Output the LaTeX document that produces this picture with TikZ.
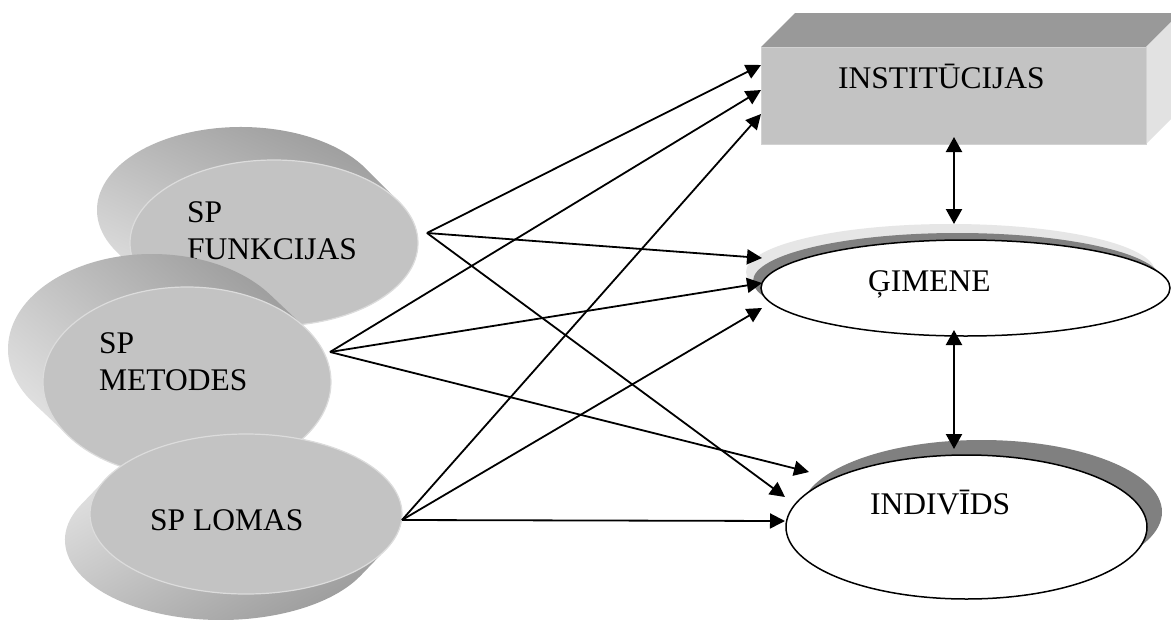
\documentclass[tikz,border=0pt]{standalone}
\usepackage{fontspec}
\setmainfont{Liberation Serif}
\usetikzlibrary{arrows.meta,calc,shapes.geometric}

\definecolor{face}{HTML}{C3C3C3}
\definecolor{rim}{HTML}{DCDCDC}
\definecolor{sidelight}{HTML}{E8E8E8}
\definecolor{sidedark}{HTML}{979797}
\definecolor{boxtop}{HTML}{999999}
\definecolor{boxside}{HTML}{E2E2E2}
\definecolor{boxedge}{HTML}{D2D2D2}
\definecolor{shadowdark}{HTML}{808080}
\definecolor{shadowlight}{HTML}{E6E6E6}

% side wall of an extruded disc: hull of the front ellipse and its copy
% moved by (dx,dy); args: cx, cy, rx, ry, dx, dy, shading angle
\newcommand{\ExtrudedSide}[7]{%
  \pgfmathsetmacro\sideta{atan2(-(#4)*(#5),(#3)*(#6))}%
  \pgfmathsetmacro\sidetb{\sideta+180}%
  \pgfmathsetmacro\sidetc{\sideta+360}%
  \path[left color=sidelight,right color=sidedark,shading angle=#7]
    ($(#1+#5,#2+#6)+(\sideta:#3 and #4)$)
      arc[start angle=\sideta,end angle=\sidetb,x radius=#3,y radius=#4]
    -- ($(#1,#2)+(\sidetb:#3 and #4)$)
      arc[start angle=\sidetb,end angle=\sidetc,x radius=#3,y radius=#4]
    -- cycle;%
}

\tikzset{
  lbl/.style={font=\fontsize{31.5}{37}\selectfont,inner sep=0pt,align=left},
  frontdisc/.style={ellipse,fill=face,draw=rim,line width=1.2pt,inner sep=0pt},
  whiteoval/.style={ellipse,fill=white,draw=black,line width=1.5pt,inner sep=0pt},
  link/.style={-{Triangle[length=15pt,width=15pt]},line width=1.8pt},
  twoway/.style={{Triangle[length=15pt,width=16pt]}-{Triangle[length=15pt,width=16pt]},line width=2.2pt},
}

\begin{document}
\begin{tikzpicture}[x=1pt,y=-1pt]
\useasboundingbox (0,0) rectangle (1171,619);
\clip (0,0) rectangle (1171,619);
\fill[white] (0,0) rectangle (1171,619);

% ---- left: three extruded discs ----
\ExtrudedSide{274}{243}{144}{83}{-33}{-33}{155}
\node[frontdisc,minimum width=288pt,minimum height=166pt] (fun) at (274,243) {};
\node[lbl,anchor=base west] (funtext) at (187,259) {SP\\FUNKCIJAS};

\ExtrudedSide{187}{382}{144}{95}{-35}{-33}{140}
\node[frontdisc,minimum width=288pt,minimum height=190pt] (met) at (187,382) {};
\node[lbl,anchor=base west] (mettext) at (99,390) {SP\\METODES};

\ExtrudedSide{246}{514}{156}{80}{-25}{26}{30}
\node[frontdisc,minimum width=312pt,minimum height=160pt] (lom) at (246,514) {};
\node[lbl,anchor=base west] (lomtext) at (150,530) {SP LOMAS};

% ---- right: box ----
\fill[boxtop] (761,47) -- (795,13) -- (1180,13) -- (1146,47) -- cycle;
\fill[boxside] (1146,47) -- (1180,13) -- (1180,110) -- (1146,144) -- cycle;
\node[rectangle,fill=face,draw=boxedge,line width=1pt,inner sep=0pt,
      minimum width=385pt,minimum height=97pt,anchor=north west] (inst) at (761,47) {};
\node[lbl,anchor=base west] (insttext) at (838,88) {INSTITŪCIJAS};

% ---- right: family oval with its shadows ----
\fill[shadowlight] (950.5,272) ellipse[x radius=204.5,y radius=48];
\fill[shadowdark] (957.5,281) ellipse[x radius=204.5,y radius=48];
\node[whiteoval,minimum width=409pt,minimum height=96pt] (gim) at (965.5,288) {};
\node[lbl,anchor=base west] (gimtext) at (868,291) {ĢIMENE};

% ---- right: individual oval with its shadow ----
\fill[shadowdark] (981.5,512) ellipse[x radius=180.5,y radius=72];
\node[whiteoval,minimum width=361pt,minimum height=144pt] (ind) at (966.5,527) {};
\node[lbl,anchor=base west] (indtext) at (870,514) {INDIVĪDS};

% ---- connector end points ----
\coordinate (funout) at (427,233);
\coordinate (metout) at (330,352);
\coordinate (lomout) at (402,520);
\coordinate (inst1) at (761,65);
\coordinate (inst2) at (761,90);
\coordinate (inst3) at (761,114);
\coordinate (gim1) at (762,258);
\coordinate (gim2) at (762,283);
\coordinate (gim3) at (762,308);
\coordinate (ind1) at (809,472);
\coordinate (ind2) at (785,497);
\coordinate (ind3) at (785,521);
\coordinate (instlow) at (954,137);
\coordinate (gimtop) at (954,224);
\coordinate (gimlow) at (954,330);
\coordinate (indtop) at (954,449);

% ---- connectors ----
\draw[link] (funout) -- (inst1);
\draw[link] (funout) -- (gim1);
\draw[link] (funout) -- (ind2);
\draw[link] (metout) -- (inst2);
\draw[link] (metout) -- (gim2);
\draw[link] (metout) -- (ind1);
\draw[link] (lomout) -- (inst3);
\draw[link] (lomout) -- (gim3);
\draw[link] (lomout) -- (ind3);
\draw[twoway] (instlow) -- (gimtop);
\draw[twoway] (gimlow) -- (indtop);
\end{tikzpicture}
\end{document}
